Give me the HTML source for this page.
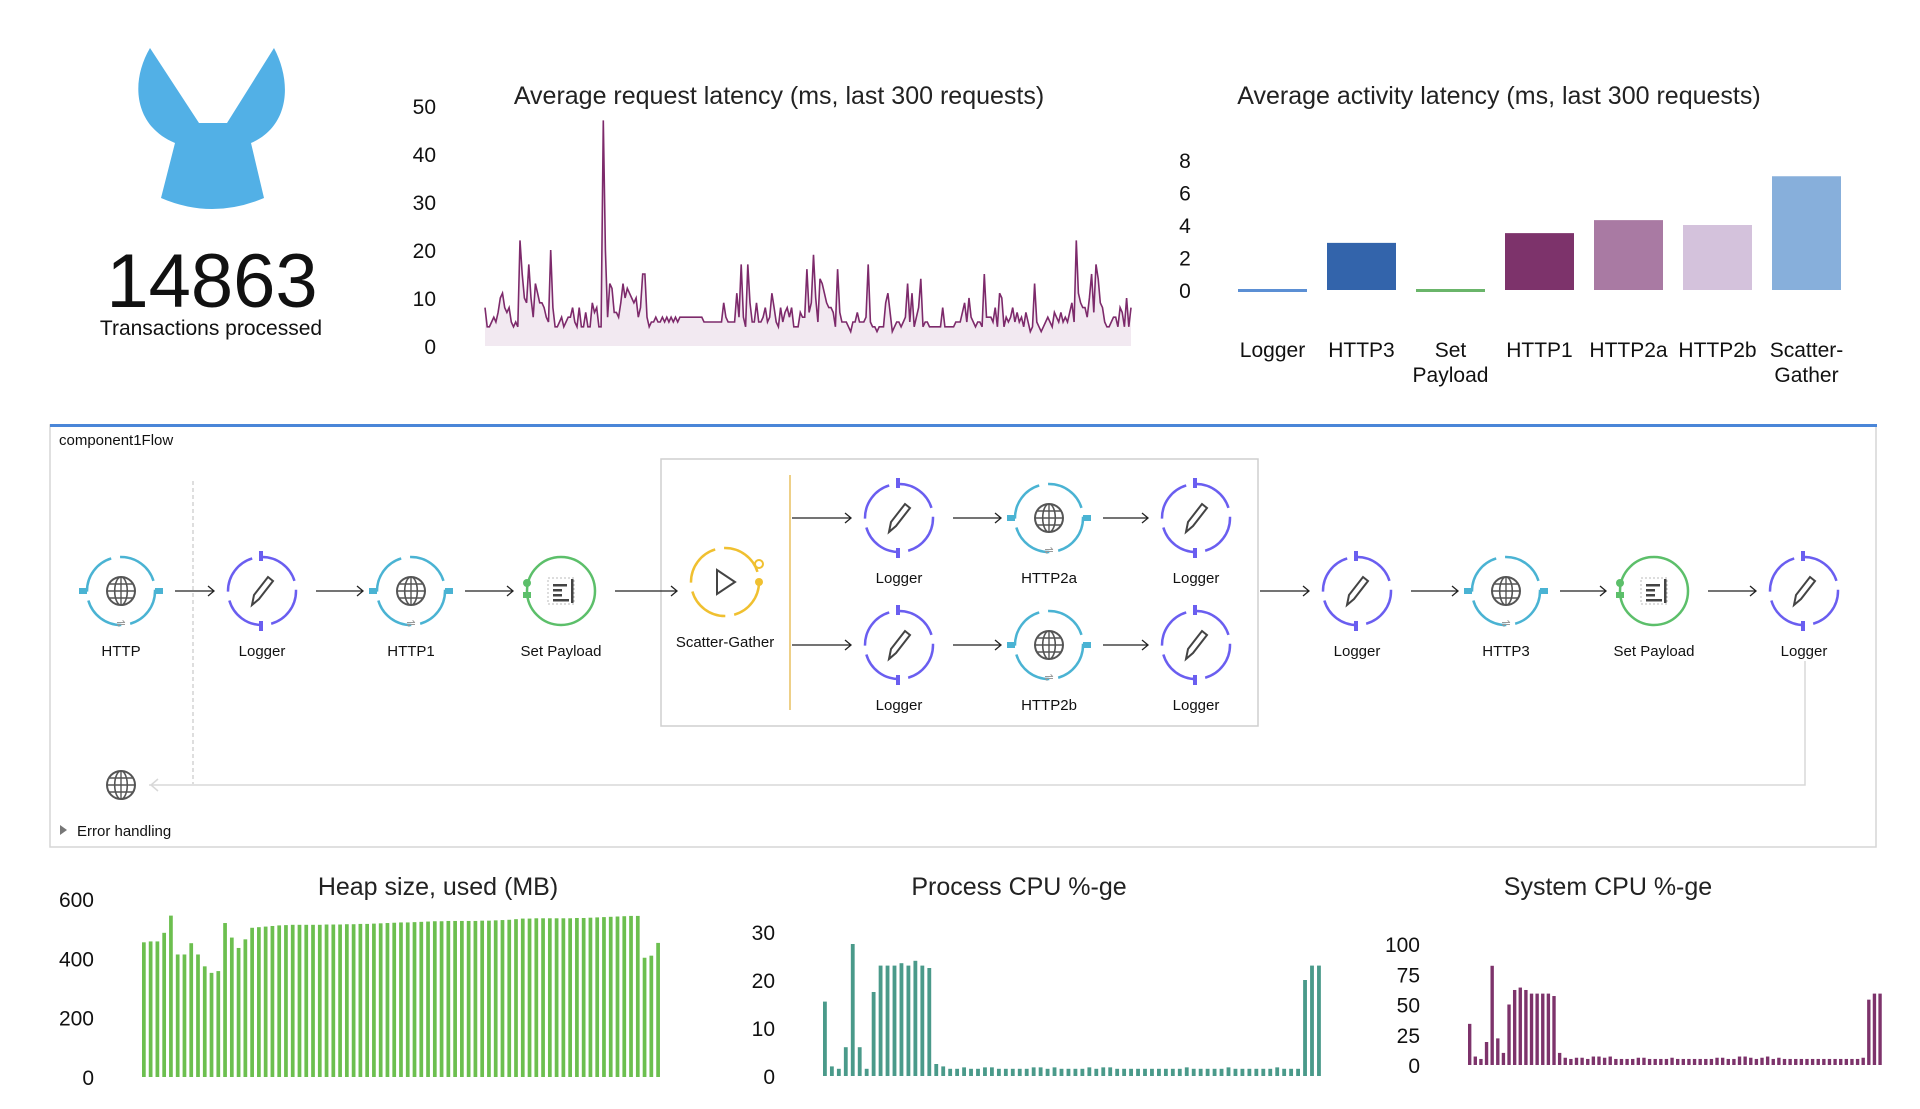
<!DOCTYPE html>
<html><head><meta charset="utf-8"><style>
html,body{margin:0;padding:0;background:#fff;}
svg{display:block;font-family:"Liberation Sans",sans-serif;}
</style></head><body>
<svg id="root" width="1920" height="1109" viewBox="0 0 1920 1109" xmlns="http://www.w3.org/2000/svg">
<g>
<path d="M150,48 L199,123 L227,123 L274,48 C292,82 290,126 251,143 L264,198 Q212,220 161,198 L175,143 C134,126 130,82 150,48 Z" fill="#52b0e6"/>
<text x="212" y="307" font-size="76" text-anchor="middle" fill="#111">14863</text>
<text x="211" y="335" font-size="21" text-anchor="middle" fill="#111">Transactions processed</text>
</g>
<g id="latency"></g>
<g id="activity"></g>
<g id="flow"></g>
<g id="heap"></g>
<g id="pcpu"></g>
<g id="scpu"></g>
</svg>
<script>
const latencyValues=[8,4,4,5,6,5,7,10,11,8,7,8,5,4,5,4,22,15,10,9,17,10,6,13,11,9,9,8,6,5,20,8,4,4,5,6,4,5,6,6,8,5,4,8,4,4,7,4,4,9,7,8,4,4,47,20,6,13,12,7,7,6,9,13,10,12,11,10,9,10,6,8,15,15,6,4,5,5,6,5,5,6,5,6,5,6,5,6,5,6,6,6,6,6,6,6,6,6,6,6,5,5,5,5,5,5,5,5,5,9,6,5,5,5,5,11,6,17,6,4,17,9,5,5,9,5,5,6,8,5,6,11,8,5,4,8,5,7,8,6,8,4,4,4,7,6,6,16,7,9,19,10,5,14,13,11,9,8,8,7,4,16,7,5,5,5,4,3,5,5,7,5,5,5,6,17,5,4,4,3,4,4,4,9,11,7,3,4,5,5,4,5,6,13,5,11,4,6,8,14,4,5,5,4,4,4,4,4,4,8,4,4,4,4,4,5,5,5,7,9,5,10,6,5,4,5,5,4,15,6,6,6,5,8,4,11,10,4,6,5,6,8,5,7,5,6,4,7,5,3,4,13,5,4,3,4,5,6,5,4,7,6,5,7,5,6,5,7,9,5,22,11,9,8,8,6,10,15,7,17,14,9,8,5,4,4,5,6,6,4,8,7,4,10,4,8];
const latencyTicks=[0,10,20,30,40,50];
const activityCategories=[["Logger"],["HTTP3"],["Set","Payload"],["HTTP1"],["HTTP2a"],["HTTP2b"],["Scatter-","Gather"]];
const activityValues=[0.1,2.9,0.1,3.5,4.3,4.0,7.0];
const activityColors=["#5b8fd4","#3364ab","#6ab56a","#7d336b","#a97aa3","#d4c2dc","#87afdb"];
const activityTicks=[0,2,4,6,8];
const heapValues=[454,457,457,486,544,413,413,451,413,373,351,357,519,470,435,464,503,505,507,509,511,512,513,513,513,513,513,514,514,514,515,515,516,516,517,518,519,520,521,521,522,523,524,525,525,526,526,526,526,526,527,527,528,529,530,532,534,534,535,535,535,535,535,535,536,536,537,538,539,540,541,542,543,543,402,409,452];
const heapTicks=[0,200,400,600];
const pcpuValues=[15.5,2,1.5,6,27.5,6,1.5,17.5,23,23,23,23.5,23,24,23,22.5,2.5,2,1.5,1.5,1.8,1.5,1.5,1.8,1.8,1.5,1.5,1.5,1.5,1.5,1.8,1.8,1.5,1.8,1.5,1.5,1.5,1.5,1.8,1.5,1.8,1.8,1.5,1.5,1.5,1.5,1.5,1.5,1.5,1.5,1.5,1.5,1.8,1.5,1.5,1.5,1.5,1.5,1.8,1.5,1.5,1.5,1.5,1.5,1.5,1.8,1.5,1.5,1.5,20,23,23];
const pcpuTicks=[0,10,20,30];
const scpuValues=[34,7,5,19,82,22,10,50,62,64,62,59,59,59,59,57,10,6,5,6,6,5,7,7,6,7,5,5,5,5,6,6,5,5,5,5,6,5,5,5,5,5,5,5,6,6,5,5,7,7,6,5,6,7,5,6,5,5,5,5,5,5,5,5,5,5,5,5,5,5,6,54,59,59];
const scpuTicks=[0,25,50,75,100];

const NS="http://www.w3.org/2000/svg";
function mk(parent,tag,attrs,text){const e=document.createElementNS(NS,tag);for(const k in attrs)e.setAttribute(k,attrs[k]);if(text!==undefined)e.textContent=text;parent.appendChild(e);return e;}

(function(){
 const g=document.getElementById('latency');
 const x0=485,x1=1131,yb=346,ppu=4.8;
 const xs=i=>x0+(x1-x0)*i/(latencyValues.length-1);
 const ys=v=>yb-v*ppu;
 const t=mk(g,'text',{x:779,y:104,'font-size':25,'text-anchor':'middle',fill:'#222'},'Average request latency (ms, last 300 requests)');
 
 
 latencyTicks.forEach(v=>{const e=mk(g,'text',{x:436,y:ys(v)+8,'font-size':21,'text-anchor':'end',fill:'#111'},String(v));
  
  });
 let pts=latencyValues.map((v,i)=>xs(i).toFixed(1)+','+ys(v).toFixed(1));
 const area=mk(g,'polygon',{points:x0+','+yb+' '+pts.join(' ')+' '+x1+','+yb,fill:'#f2e9f1'});
 
 
 const line=mk(g,'polyline',{points:pts.join(' '),fill:'none',stroke:'#7d2a6b','stroke-width':1.6});
 
 
})();

(function(){
 const g=document.getElementById('activity');
 const yb=290,ppu=16.25,bx0=1238,step=89,bw=69;
 const ys=v=>yb-v*ppu;
 const t=mk(g,'text',{x:1499,y:104,'font-size':25,'text-anchor':'middle',fill:'#222'},'Average activity latency (ms, last 300 requests)');
 
 
 activityTicks.forEach(v=>{const e=mk(g,'text',{x:1185,y:ys(v)+8,'font-size':21,'text-anchor':'middle',fill:'#111'},String(v));
  
  });
 activityValues.forEach((v,i)=>{
  const h=Math.max(v*ppu,3);
  const r=mk(g,'rect',{x:bx0+i*step,y:yb-h+(v<0.5?2:0),width:bw,height:h,fill:activityColors[i]});
  
  
  activityCategories[i].forEach((ln,j)=>{const e=mk(g,'text',{x:bx0+i*step+bw/2,y:357+j*25,'font-size':21,'text-anchor':'middle',fill:'#111'},ln);
   
   });
 });
})();

function barChart(id,vals,ticks,title,titleX,x0,x1,yb,yTop,maxV,labelX,color,bwf){
 const g=document.getElementById(id);
 const ys=v=>yb-(yb-yTop)*v/maxV;
 const t=mk(g,'text',{x:titleX,y:895,'font-size':25,'text-anchor':'middle',fill:'#222'},title);
 
 
 ticks.forEach(v=>{const e=mk(g,'text',{x:labelX,y:ys(v)+8,'font-size':21,'text-anchor':'end',fill:'#111'},String(v));
  
  });
 const step=(x1-x0)/vals.length;
 vals.forEach((v,i)=>{const r=mk(g,'rect',{x:x0+i*step,y:ys(v),width:step*bwf,height:yb-ys(v),fill:color});
  
  });
}
barChart('heap',heapValues,heapTicks,'Heap size, used (MB)',438,142,663,1077,899,600,94,'#6cbf4f',0.55);
barChart('pcpu',pcpuValues,pcpuTicks,'Process CPU %-ge',1019,823,1324,1076,932,30,775,'#4a9a8a',0.55);
barChart('scpu',scpuValues,scpuTicks,'System CPU %-ge',1608,1468,1884,1065,944,100,1420,'#7d336b',0.6);

(function(){
 const g=document.getElementById('flow');
 const box=mk(g,'rect',{x:50,y:425,width:1826,height:422,fill:'#fff',stroke:'#d5d5d5','stroke-width':1.5});
 
 
 const top=mk(g,'rect',{x:50,y:424,width:1827,height:3,fill:'#4a86d8'});
 
 
 const nm=mk(g,'text',{x:59,y:445,'font-size':15,fill:'#111'},'component1Flow');
 
 
 const sg=mk(g,'rect',{x:661,y:459,width:597,height:267,fill:'none',stroke:'#cfcfcf','stroke-width':1.5});
 
 
 mk(g,'line',{x1:790,y1:475,x2:790,y2:710,stroke:'#e8c060','stroke-width':1.5});
 mk(g,'line',{x1:193,y1:481,x2:193,y2:784,stroke:'#c8c8c8','stroke-width':1.2,'stroke-dasharray':'4,3'});
 mk(g,'polyline',{points:'1805,661 1805,785 149,785',fill:'none',stroke:'#d8d8d8','stroke-width':1.5});
 mk(g,'polyline',{points:'158,779 151,785 158,791',fill:'none',stroke:'#d8d8d8','stroke-width':1.5});
 const arrows=[[121,262,591],[262,411,591],[411,561,591],[561,725,591],[790,899,518],[899,1049,518],[1049,1196,518],[790,899,645],[899,1049,645],[1049,1196,645],[1258,1357,591],[1357,1506,591],[1506,1654,591],[1654,1804,591]];
 arrows.forEach(a=>{const s=a[0]===790||a[0]===1258?a[0]+2:a[0]+54,e=a[1]-48;
  const ag=mk(g,'g',{});
  
  
  mk(ag,'line',{x1:s,y1:a[2],x2:e,y2:a[2],stroke:'#222','stroke-width':1.3});
  mk(ag,'polyline',{points:(e-6)+','+(a[2]-5)+' '+e+','+a[2]+' '+(e-6)+','+(a[2]+5),fill:'none',stroke:'#222','stroke-width':1.3});});
 function globe(p,cx,cy,r){mk(p,'circle',{cx,cy,r,fill:'none',stroke:'#555','stroke-width':2});
  mk(p,'ellipse',{cx,cy,rx:r*0.45,ry:r,fill:'none',stroke:'#555','stroke-width':1.6});
  mk(p,'line',{x1:cx-r,y1:cy,x2:cx+r,y2:cy,stroke:'#555','stroke-width':1.6});
  mk(p,'line',{x1:cx-r*0.85,y1:cy-r*0.5,x2:cx+r*0.85,y2:cy-r*0.5,stroke:'#555','stroke-width':1.4});
  mk(p,'line',{x1:cx-r*0.85,y1:cy+r*0.5,x2:cx+r*0.85,y2:cy+r*0.5,stroke:'#555','stroke-width':1.4});
  mk(p,'line',{x1:cx,y1:cy-r,x2:cx,y2:cy+r,stroke:'#555','stroke-width':1.4});}
 function node(cx,cy,type,label,ly){
  const ng=mk(g,'g',{});
  
  
  const col={http:'#4ab3d3',logger:'#6a5ef0',payload:'#5cbf6a',sg:'#f0c030'}[type];
  mk(ng,'circle',{cx,cy,r:34,fill:'#fff',stroke:col,'stroke-width':2.5,'stroke-dasharray':type==='payload'?'none':'44,9'});
  if(type==='http'){globe(ng,cx,cy,14);mk(ng,'rect',{x:cx-42,y:cy-3,width:8,height:6,fill:col});mk(ng,'rect',{x:cx+34,y:cy-3,width:8,height:6,fill:col});
   mk(ng,'text',{x:cx,y:cy+36,'font-size':11,'text-anchor':'middle',fill:'#999'},'⇌');}
  if(type==='logger'){mk(ng,'rect',{x:cx-3,y:cy-40,width:4,height:10,fill:col});mk(ng,'rect',{x:cx-3,y:cy+30,width:4,height:10,fill:col});
   mk(ng,'path',{d:`M${cx-10},${cy+14} L${cx-8},${cy+4} L${cx+6},${cy-14} L${cx+11},${cy-10} L${cx-3},${cy+8} Z`,fill:'none',stroke:'#444','stroke-width':2});}
  if(type==='payload'){mk(ng,'circle',{cx:cx-34,cy:cy-8,r:4,fill:col});mk(ng,'rect',{x:cx-38,y:cy+1,width:8,height:6,fill:col});
   mk(ng,'rect',{x:cx-13,y:cy-13,width:26,height:26,fill:'none',stroke:'#bbb','stroke-width':1,'stroke-dasharray':'2,2'});
   [[-8,-7,14],[-8,-2,9],[-8,3,9],[-8,8,16]].forEach(l=>mk(ng,'rect',{x:cx+l[0],y:cy+l[1],width:l[2],height:2.5,fill:'#444'}));
   mk(ng,'rect',{x:cx+10,y:cy-12,width:2.5,height:24,fill:'#444'});}
  if(type==='sg'){mk(ng,'path',{d:`M${cx-8},${cy-12} L${cx+10},${cy} L${cx-8},${cy+12} Z`,fill:'none',stroke:'#444','stroke-width':2});
   mk(ng,'circle',{cx:cx+34,cy:cy-18,r:4,fill:'#fff',stroke:col,'stroke-width':2});mk(ng,'circle',{cx:cx+34,cy:cy,r:4,fill:col});}
  mk(ng,'text',{x:cx,y:ly,'font-size':15,'text-anchor':'middle',fill:'#111'},label);
 }
 node(121,591,'http','HTTP',656);node(262,591,'logger','Logger',656);node(411,591,'http','HTTP1',656);node(561,591,'payload','Set Payload',656);
 node(725,582,'sg','Scatter-Gather',647);
 node(899,518,'logger','Logger',583);node(1049,518,'http','HTTP2a',583);node(1196,518,'logger','Logger',583);
 node(899,645,'logger','Logger',710);node(1049,645,'http','HTTP2b',710);node(1196,645,'logger','Logger',710);
 node(1357,591,'logger','Logger',656);node(1506,591,'http','HTTP3',656);node(1654,591,'payload','Set Payload',656);node(1804,591,'logger','Logger',656);
 const eg=mk(g,'g',{});
 
 
 globe(eg,121,785,14);
 const tri=mk(g,'path',{d:'M60,825 L67,830 L60,835 Z',fill:'#777'});
 
 
 const et=mk(g,'text',{x:77,y:836,'font-size':15,fill:'#111'},'Error handling');
 
 
})();
</script>
</body></html>
